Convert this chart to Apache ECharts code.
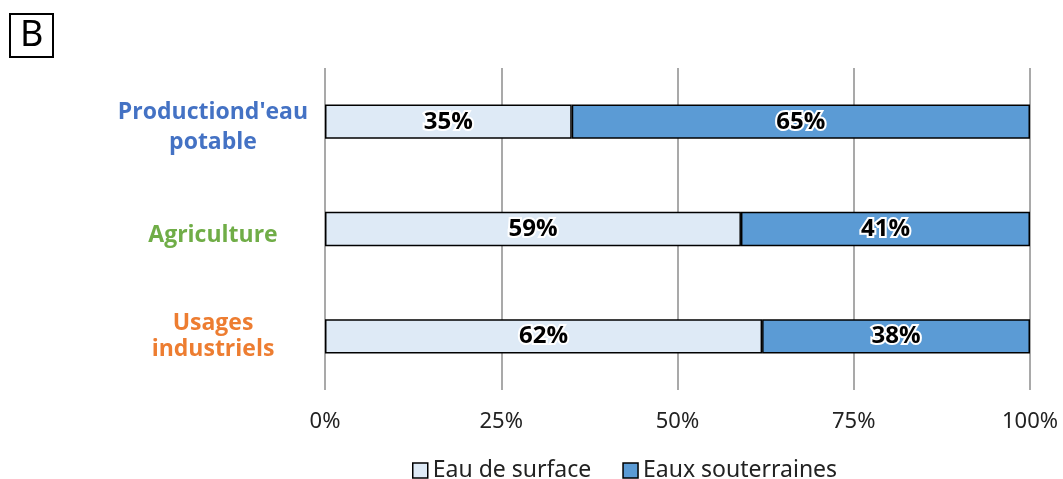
<!DOCTYPE html>
<html>
<head>
<meta charset="utf-8">
<script src="https://cdn.jsdelivr.net/npm/echarts@6/dist/echarts.min.js"></script>
<style>
  html, body { margin: 0; padding: 0; background: #fff; }
  #chart { width: 1063px; height: 479px; }
</style>
</head>
<body>
<div id="chart"></div>
<script>
const categories = ["Productiond'eau\npotable", 'Agriculture', 'Usages\nindustriels']
const categoryColors = ['#4472C4', '#70AD47', '#ED7D31']
const seriesNames = ['Eau de surface', 'Eaux souterraines']
const surfaceValues = [35, 59, 62]
const groundValues = [65, 41, 38]
const xTicks = [0, 25, 50, 75, 100]

const chart = echarts.init(document.getElementById('chart'))

const labelStyle = {
  show: true,
  position: 'inside',
  formatter: '{c}%',
  color: '#000',
  fontSize: 24,
  fontWeight: 'bold',
  fontFamily: 'Open Sans',
  textBorderColor: '#fff',
  textBorderWidth: 4
}

// per-category text style, small vertical nudges to sit like the original
const catFont = { fontSize: 23, fontWeight: 'bold', fontFamily: 'Open Sans' }
const catRich = {
  c0: { ...catFont, color: categoryColors[0], lineHeight: 29.5, padding: [12, 0, 0, 0] },
  c1: { ...catFont, color: categoryColors[1], lineHeight: 29, padding: [12, 0, 0, 0] },
  c2: { ...catFont, color: categoryColors[2], lineHeight: 26 }
}

const option = {
  animation: false,
  title: {
    text: 'B',
    left: 10,
    top: 14,
    padding: [0, 10, 0, 10],
    borderColor: '#000',
    borderWidth: 2,
    textStyle: { fontSize: 36, fontWeight: 'normal', color: '#000', fontFamily: 'Noto Sans', lineHeight: 43 }
  },
  legend: {
    top: 454,
    left: 407,
    icon: 'rect',
    itemWidth: 15,
    itemHeight: 15,
    itemGap: 31,
    textStyle: { fontSize: 23, color: '#222', fontFamily: 'Noto Sans' },
    itemStyle: { borderColor: '#000', borderWidth: 1.5 },
    data: seriesNames
  },
  grid: { left: 325, right: 33, top: 68, bottom: 89 },
  xAxis: {
    type: 'value',
    min: 0,
    max: 100,
    interval: 25,
    axisLine: { show: false },
    axisTick: { show: false },
    splitLine: { show: true, lineStyle: { color: '#8c8c8c', width: 1.5 } },
    axisLabel: {
      formatter: v => xTicks.includes(v) ? v + '%' : '',
      fontSize: 22,
      color: '#222',
      margin: 21,
      fontFamily: 'Noto Sans'
    }
  },
  yAxis: {
    type: 'category',
    inverse: true,
    data: categories,
    axisLine: { show: false },
    axisTick: { show: false },
    axisLabel: {
      align: 'center',
      margin: 112,
      formatter: (v, i) => v.split('\n').map(l => `{c${i}|${l}}`).join('\n'),
      rich: catRich
    }
  },
  series: [
    {
      name: seriesNames[0],
      type: 'bar',
      stack: 'total',
      barWidth: '32%',
      itemStyle: { color: '#DEEAF6', borderColor: '#000', borderWidth: 1.5 },
      label: labelStyle,
      data: surfaceValues
    },
    {
      name: seriesNames[1],
      type: 'bar',
      stack: 'total',
      itemStyle: { color: '#5B9BD5', borderColor: '#000', borderWidth: 1.5 },
      label: labelStyle,
      data: groundValues
    }
  ]
}

chart.setOption(option)
</script>
</body>
</html>
